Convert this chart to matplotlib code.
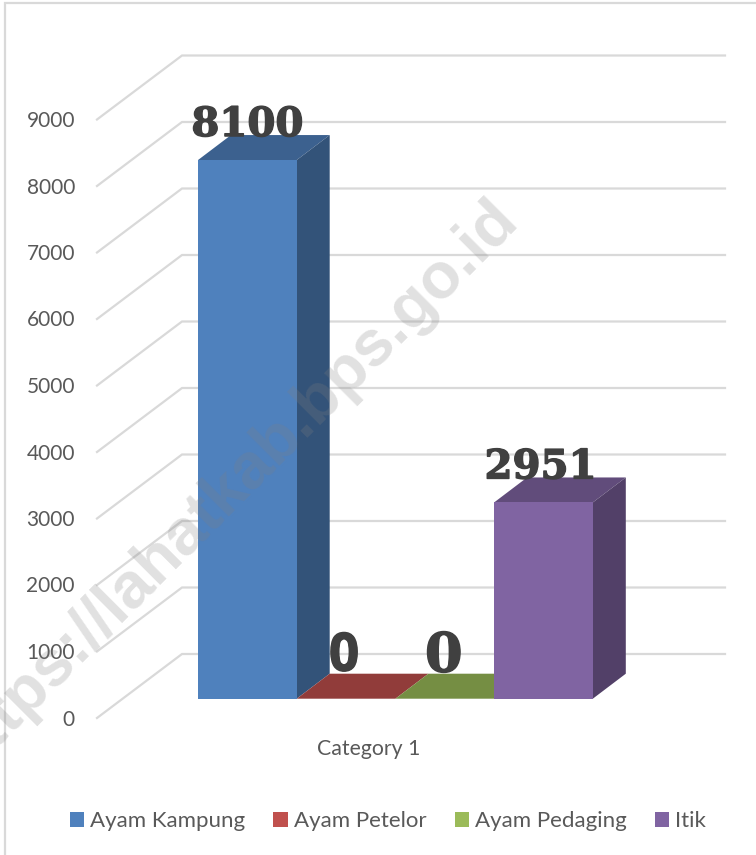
import matplotlib
matplotlib.use("Agg")
import matplotlib.pyplot as plt
import matplotlib.patheffects as pe
from matplotlib.patches import Patch, Polygon

series = ["Ayam Kampung", "Ayam Petelor", "Ayam Pedaging", "Itik"]
values = [8100, 0, 0, 2951]
front_colors = ["#4F81BD", "#C0504D", "#9BBB59", "#8064A2"]
top_colors = ["#3C618F", "#913C3A", "#758E43", "#614C7B"]
side_colors = ["#335379", "#7B3331", "#637839", "#524068"]
y_ticks = [0, 1000, 2000, 3000, 4000, 5000, 6000, 7000, 8000, 9000]
category = "Category 1"
watermark = "https://lahatkab.bps.go.id"

W, H = 756, 855
SLOT = 98.7
PER_UNIT = 0.0665
BASE_PX = 698.7
LEFT_PX = 198.0
GRID = "#D9D9D9"
TEXT = "#595959"


def px_x(p):
    return (p - LEFT_PX) / SLOT


def px_y(p):
    return (BASE_PX - p) / PER_UNIT


fig = plt.figure(figsize=(W / 100, H / 100), dpi=100)
ax = fig.add_axes([0, 0, 1, 1])
ax.set_xlim(px_x(0), px_x(W))
ax.set_ylim(px_y(H), px_y(0))
ax.axis("off")

# only the left and top edges of the chart frame are in the picture
ax.plot([px_x(5), px_x(5), px_x(W)], [px_y(H), px_y(3.5), px_y(3.5)],
        color=GRID, lw=1.6, zorder=0, solid_joinstyle="miter")

# walls of the fake 3d box
front_off, back_off = px_y(718), px_y(654)
for v in y_ticks:
    ax.plot([px_x(97), px_x(182), px_x(725)],
            [v + front_off, v + back_off, v + back_off],
            color=GRID, lw=1.6, zorder=1, solid_joinstyle="miter")
    ax.text(px_x(75), v + front_off - 1.5 / PER_UNIT, str(v), ha="right", va="center",
            fontsize=15, family="Lato", color=TEXT, zorder=2)

dx = 33 / SLOT
dy = 25 / PER_UNIT
label_fonts = ["DejaVu Serif", "Open Sans", "DejaVu Serif", "DejaVu Serif"]
label_sizes = [29, 38, 39, 29]
label_nudge = [0, -2, -1, -3]
label_lift = [-1, 3, 2, -1]
for i, v in enumerate(values):
    z = 3 + i
    ax.add_patch(Polygon([(i, v), (i + 1, v), (i + 1 + dx, v + dy), (i + dx, v + dy)],
                         fc=top_colors[i], ec="none", zorder=z))
    ax.add_patch(Polygon([(i + 1, 0), (i + 1 + dx, dy), (i + 1 + dx, v + dy), (i + 1, v)],
                         fc=side_colors[i], ec="none", zorder=z))
    ax.bar(i + 0.5, v, width=1, color=front_colors[i], zorder=z + 0.5)
    ax.text(i + 0.5 + label_nudge[i] / SLOT, v + dy + label_lift[i] / PER_UNIT, str(v),
            ha="center", va="baseline", fontsize=label_sizes[i], family=label_fonts[i],
            fontweight="bold", color="#404040", zorder=9,
            path_effects=[pe.withStroke(linewidth=1, foreground="#404040")])

ax.text(px_x(369), px_y(749), category, ha="center", va="center",
        fontsize=15.3, family="Lato", color=TEXT, zorder=2)

handles = [Patch(fc=c, ec="none") for c in front_colors]
ax.legend(handles, series, ncols=4, loc="center", bbox_to_anchor=(388 / W, 1 - 821 / H),
          frameon=False, handlelength=0.64, handleheight=0.64, handletextpad=0.27,
          columnspacing=1.28, prop={"family": "Lato", "size": 16}, labelcolor=TEXT)

ax.text(px_x(231), px_y(486), watermark, rotation=45, rotation_mode="anchor",
        ha="center", va="center", fontsize=46.5, family="Liberation Sans", fontweight="bold",
        color="#808080", alpha=0.24, zorder=10)

fig.savefig("out.png", dpi=100)
